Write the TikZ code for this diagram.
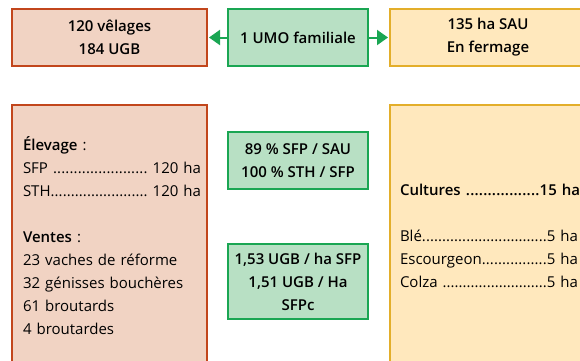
\documentclass[tikz,border=0pt]{standalone}
\usepackage{fontspec}
\setmainfont{Open Sans}[BoldFont={Open Sans Semibold}]
\usetikzlibrary{arrows.meta}
\definecolor{rougeB}{HTML}{C2461C}
\definecolor{rougeF}{HTML}{F1D3C3}
\definecolor{vertB}{HTML}{1AA653}
\definecolor{vertF}{HTML}{B8E0C4}
\definecolor{jauneB}{HTML}{E3AE2A}
\definecolor{jauneF}{HTML}{FFE8BD}
\newcommand{\ligne}{23pt}
\newcommand{\poste}[3][178pt]{\leavevmode\hbox to #1{#2\xleaders\hbox{.}\hfill#3}}

\begin{document}
\begin{tikzpicture}[x=1pt,y=-1pt]
    \useasboundingbox (0,0) rectangle (580,360);
    \clip (0,0) rectangle (580,360);
    \begin{scope}[every node/.style={rectangle,line width=2pt,inner sep=0pt,align=center,
                  font=\fontsize{15}{\ligne}\selectfont\bfseries}]
        % ligne du haut
        \node[draw=rougeB,fill=rougeF,minimum width=195pt,minimum height=57pt] (velages) at (109.5,37.5) {120 vêlages\\184 UGB};
        \node[draw=vertB,fill=vertF,minimum width=140pt,minimum height=57pt] (umo) at (298,37.5) {1 UMO familiale};
        \node[draw=jauneB,fill=jauneF,minimum width=210pt,minimum height=57pt] (sau) at (495,37.5) {\hspace*{-14pt}135 ha SAU\\\hspace*{-14pt}En fermage};
        % blocs du bas
        \node[draw=rougeB,fill=rougeF,minimum width=195pt,minimum height=300pt] (elevage) at (109.5,255) {};
        \node[draw=vertB,fill=vertF,minimum width=140pt,minimum height=57pt] (ratios) at (298,160.5) {89 \% SFP / SAU\\100 \% STH / SFP};
        \node[draw=vertB,fill=vertF,minimum width=140pt,minimum height=75pt] (charge) at (298,281.5) {1,53 UGB / ha SFP\\1,51 UGB / Ha\\SFPc};
        \node[draw=jauneB,fill=jauneF,minimum width=210pt,minimum height=300pt] (cultures) at (495,255) {};
        % textes
        \node[anchor=base west,text width=178pt,align=left,font=\fontsize{15}{\ligne}\selectfont] (elevagetxt) at (22,150)
            {\textbf{Élevage} :\\
             \poste{SFP }{ 120 ha}\\
             \poste{STH}{ 120 ha}\\[\ligne]
             \textbf{Ventes} :\\
             23 vaches de réforme\\
             32 génisses bouchères\\
             61 broutards\\
             4 broutardes};
        \node[anchor=base west,text width=185pt,align=left,font=\fontsize{15}{\ligne}\selectfont] (culturestxt) at (399,195)
            {\poste[180pt]{\bfseries Cultures }{15 ha}\\[\ligne]
             \poste{Blé}{5 ha}\\
             \poste{Escourgeon}{5 ha}\\
             \poste{Colza }{5 ha}};
    \end{scope}

    \begin{scope}[>={Triangle[length=11pt,width=15pt]},
        every edge/.style={draw=vertB,line width=2pt,shorten >=1pt}]
        \path [->] (umo) edge (velages);
        \path [->] (umo) edge (sau);
    \end{scope}
\end{tikzpicture}
\end{document}
